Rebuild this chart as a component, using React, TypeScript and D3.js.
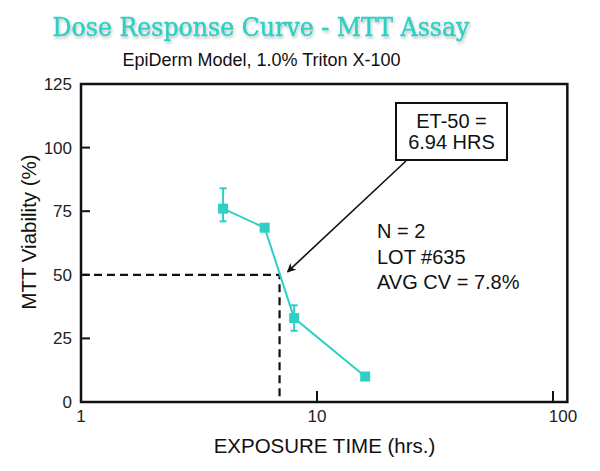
import React, { useRef, useEffect } from 'react';
import * as d3 from 'd3';

const hours = [4, 6, 8, 16];
const viability = [76, 68.5, 33, 10];
const errLow = [71, 68.5, 28, 10];
const errHigh = [84, 68.5, 38, 10];
const yTicks = [0, 25, 50, 75, 100, 125];
const xTicks = [1, 10, 100];
const et50 = 6.94;
const notes = ['N = 2', 'LOT #635', 'AVG CV = 7.8%'];
const boxLines = ['ET-50 =', '6.94 HRS'];

const TEAL = '#2ecfc4';
const FONT = '"Liberation Sans", Arial, sans-serif';

const App = () => {
  const ref = useRef<SVGSVGElement | null>(null);

  useEffect(() => {
    const W = 600;
    const H = 471;
    const left = 81;
    const top = 84;
    const bottom = 402;
    const decade = 236;
    const xMaxVal = 115;

    const svg = d3.select(ref.current);
    svg.selectAll('*').remove();
    svg.attr('width', W).attr('height', H);

    const x = d3.scaleLog().domain([1, xMaxVal]).range([left, left + decade * Math.log10(xMaxVal)]);
    const y = d3.scaleLinear().domain([0, 125]).range([bottom, top]);
    const right = x(xMaxVal);

    const defs = svg.append('defs');
    const f = defs.append('filter').attr('id', 'tshadow').attr('x', '-5%').attr('y', '-20%').attr('width', '110%').attr('height', '150%');
    f.append('feDropShadow').attr('dx', 1).attr('dy', 2).attr('stdDeviation', 1.5).attr('flood-color', '#000').attr('flood-opacity', 0.25);
    const m = defs.append('marker').attr('id', 'arrow').attr('viewBox', '0 0 10 10').attr('refX', 9).attr('refY', 5)
      .attr('markerWidth', 9).attr('markerHeight', 9).attr('orient', 'auto').attr('markerUnits', 'userSpaceOnUse');
    m.append('path').attr('d', 'M0,0 L10,5 L0,10 L3,5 Z').attr('fill', '#111');

    // titles
    svg.append('text').attr('x', 261).attr('y', 36).attr('text-anchor', 'middle')
      .attr('font-family', '"DejaVu Serif", serif').attr('font-size', 26).attr('fill', TEAL)
      .attr('stroke', TEAL).attr('stroke-width', 0.5)
      .attr('textLength', 417).attr('lengthAdjust', 'spacingAndGlyphs').attr('filter', 'url(#tshadow)')
      .text('Dose Response Curve - MTT Assay');
    svg.append('text').attr('x', 261.5).attr('y', 66).attr('text-anchor', 'middle')
      .attr('font-family', FONT).attr('font-size', 18).attr('fill', '#111')
      .text('EpiDerm Model, 1.0% Triton X-100');

    // frame
    svg.append('rect').attr('x', left).attr('y', top).attr('width', right - left).attr('height', bottom - top)
      .attr('fill', 'none').attr('stroke', '#111').attr('stroke-width', 2.5);

    // y ticks
    yTicks.forEach(t => {
      if (t > 0 && t < 125) {
        svg.append('line').attr('x1', left).attr('x2', left + 9).attr('y1', y(t)).attr('y2', y(t))
          .attr('stroke', '#111').attr('stroke-width', 2);
      }
      svg.append('text').attr('x', 72).attr('y', y(t) + 6).attr('text-anchor', 'end')
        .attr('font-family', FONT).attr('font-size', 17).attr('fill', '#222').text(String(t));
    });

    // x ticks
    xTicks.forEach(t => {
      if (t > 1 && t < xMaxVal && x(t) < right - 5) {
        svg.append('line').attr('x1', x(t)).attr('x2', x(t)).attr('y1', bottom).attr('y2', bottom - 11)
          .attr('stroke', '#111').attr('stroke-width', 2);
      }
      svg.append('text').attr('x', t === 100 ? x(t) + 10 : x(t)).attr('y', 422).attr('text-anchor', 'middle')
        .attr('font-family', FONT).attr('font-size', 17).attr('fill', '#222').text(String(t));
    });

    // axis labels
    svg.append('text').attr('x', 324.5).attr('y', 453).attr('text-anchor', 'middle')
      .attr('font-family', FONT).attr('font-size', 20.5).attr('fill', '#111').text('EXPOSURE TIME (hrs.)');
    svg.append('text').attr('transform', `translate(36,${232}) rotate(-90)`).attr('text-anchor', 'middle')
      .attr('font-family', FONT).attr('font-size', 20.5).attr('fill', '#111').text('MTT Viability (%)');

    // ET-50 dashed guide
    svg.append('path')
      .attr('d', `M${left},${y(50)} H${x(et50)} V${bottom}`)
      .attr('fill', 'none').attr('stroke', '#111').attr('stroke-width', 2.2).attr('stroke-dasharray', '8,5');

    // series line
    const pts = hours.map((h, i) => [x(h), y(viability[i])] as [number, number]);
    svg.append('path').attr('d', d3.line()(pts)).attr('fill', 'none').attr('stroke', TEAL).attr('stroke-width', 2);

    // error bars
    hours.forEach((h, i) => {
      if (errHigh[i] - errLow[i] < 0.5) return;
      const cx = x(h);
      svg.append('line').attr('x1', cx).attr('x2', cx).attr('y1', y(errLow[i])).attr('y2', y(errHigh[i]))
        .attr('stroke', TEAL).attr('stroke-width', 2);
      [errLow[i], errHigh[i]].forEach(v => {
        svg.append('line').attr('x1', cx - 3.5).attr('x2', cx + 3.5).attr('y1', y(v)).attr('y2', y(v))
          .attr('stroke', TEAL).attr('stroke-width', 2);
      });
    });

    // markers
    svg.selectAll('rect.pt').data(pts).enter().append('rect').attr('class', 'pt')
      .attr('x', d => d[0] - 5).attr('y', d => d[1] - 5).attr('width', 10).attr('height', 10).attr('fill', TEAL);

    // callout box
    const bx = 396, by = 103, bw = 111, bh = 57;
    svg.append('rect').attr('x', bx).attr('y', by).attr('width', bw).attr('height', bh)
      .attr('fill', '#fff').attr('stroke', '#111').attr('stroke-width', 2);
    boxLines.forEach((s, i) => {
      svg.append('text').attr('x', bx + bw / 2).attr('y', 128 + i * 21).attr('text-anchor', 'middle')
        .attr('font-family', FONT).attr('font-size', 20).attr('fill', '#111').text(s);
    });
    svg.append('line').attr('x1', bx + 10).attr('y1', by + bh + 1).attr('x2', x(et50) + 8).attr('y2', y(50) - 3)
      .attr('stroke', '#111').attr('stroke-width', 1.6).attr('marker-end', 'url(#arrow)');

    // notes
    notes.forEach((s, i) => {
      svg.append('text').attr('x', 377).attr('y', 238 + i * 25.5)
        .attr('font-family', FONT).attr('font-size', 20).attr('fill', '#111').text(s);
    });
  }, []);

  return <svg ref={ref} style={{ position: 'absolute', left: 0, top: 0, background: '#fff' }} />;
};

export default App;
